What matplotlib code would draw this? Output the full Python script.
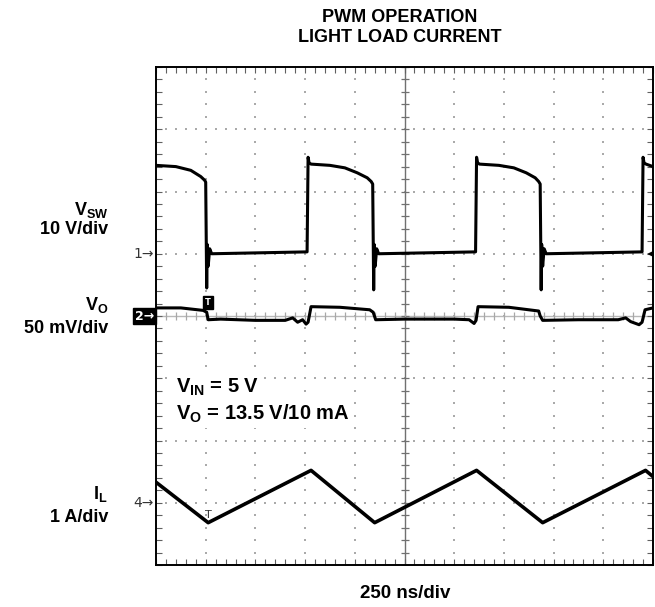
import numpy as np
import matplotlib
matplotlib.use("Agg")
import matplotlib.pyplot as plt
import matplotlib.transforms as mtransforms
from matplotlib import font_manager

# time axis in divisions (250 ns/div)
vsw_t = [0.00, 0.40, 0.70, 0.90, 0.98, 1.00, 1.02, 1.03, 1.05, 1.08, 1.12,
         3.04, 3.06, 3.08, 3.12, 3.50, 3.80, 4.05, 4.25, 4.33, 4.36, 4.38,
         4.39, 4.41, 4.44, 4.48, 6.43, 6.45, 6.47, 6.51, 6.90, 7.20, 7.45,
         7.63, 7.70, 7.73, 7.75, 7.76, 7.78, 7.81, 7.85, 9.78, 9.80, 9.82,
         9.86, 10.00]
vsw_v = [14.2, 14.0, 13.4, 12.4, 11.8, 11.5, -5.5, 1.5, -2.0, 0.8, 0.0,
         0.3, 15.5, 14.6, 14.4, 14.2, 13.8, 13.0, 12.2, 11.6, 11.2, -5.8,
         1.5, -2.0, 0.8, 0.0, 0.3, 15.5, 14.6, 14.4, 14.2, 13.8, 13.0,
         12.2, 11.6, 11.2, -5.8, 1.5, -2.0, 0.8, 0.0, 0.3, 15.5, 14.6,
         14.4, 14.0]

vo_t = [0.00, 0.50, 0.95, 1.02, 1.05, 1.30, 2.00, 2.60, 2.75, 2.85, 2.95,
        3.02, 3.06, 3.12, 3.70, 4.30, 4.37, 4.42, 5.00, 6.00, 6.30, 6.40,
        6.44, 6.48, 7.10, 7.70, 7.73, 7.78, 8.50, 9.30, 9.45, 9.55, 9.72,
        9.78, 9.84, 10.00]
vo_mv = [6.5, 6.5, 4.5, 3.0, -3.0, -2.5, -3.5, -3.5, -1.5, -5.0, -3.0,
         -6.5, -5.0, 7.5, 7.0, 5.0, 3.0, -3.0, -2.5, -2.5, -3.0, -6.0,
         -3.5, 7.5, 7.0, 4.0, 0.0, -3.5, -3.0, -3.0, -1.5, -4.5, -7.0,
         -5.0, 5.0, 6.5]

il_t = [0.00, 1.05, 3.12, 4.40, 6.45, 7.78, 9.85, 10.00]
il_a = [0.33, -0.32, 0.52, -0.32, 0.52, -0.32, 0.52, 0.42]

# scope channel settings: (ground position in div, units per div)
CH1 = (1.0, 10.0)   # V
CH2 = (0.0, 50.0)   # mV
CH4 = (-3.0, 1.0)   # A


def to_div(vals, ch):
    return ch[0] + np.asarray(vals, dtype=float) / ch[1]


names = {f.name for f in font_manager.fontManager.ttflist}
narrow = "Liberation Sans Narrow" if "Liberation Sans Narrow" in names else "Liberation Sans"

plt.rcParams["font.family"] = [narrow, "DejaVu Sans"]
plt.rcParams["font.weight"] = "bold"
plt.rcParams["mathtext.fontset"] = "custom"
plt.rcParams["mathtext.rm"] = narrow + ":bold"
plt.rcParams["mathtext.sf"] = "Liberation Sans:bold"

fig = plt.figure(figsize=(6.55, 6.07), dpi=100)
ax = fig.add_axes([156 / 655, 1 - 565 / 607, 497 / 655, 498 / 607])
ax.set_xlim(0, 10)
ax.set_ylim(-4, 4)

# dotted graticule
fine_x = np.arange(0, 10.001, 0.2)
fine_y = np.arange(-4, 4.001, 0.2)
for gx in range(1, 10):
    if gx != 5:
        ax.plot(np.full_like(fine_y, gx), fine_y, ls="none", marker="s",
                ms=1.5, mew=0, color="#aaaaaa", zorder=1)
for gy in range(-3, 4):
    if gy != 0:
        ax.plot(fine_x, np.full_like(fine_x, gy), ls="none", marker="s",
                ms=1.5, mew=0, color="#aaaaaa", zorder=1)

# center crosshair with ticks
ax.axvline(5, color="#707070", lw=1.0, zorder=1)
ax.axhline(0, color="#b8b8b8", lw=1.0, zorder=1)
ax.plot(np.full_like(fine_y, 5), fine_y, ls="none", marker="_", ms=6,
        mew=0.9, color="#707070", zorder=1)
ax.plot(fine_x, np.zeros_like(fine_x), ls="none", marker="|", ms=6,
        mew=0.9, color="#a8a8a8", zorder=1)

ax.set_xticks([])
ax.set_yticks([])
ax.set_xticks(fine_x, minor=True)
ax.set_yticks(fine_y, minor=True)
ax.tick_params(which="minor", direction="in", length=4, width=0.8,
               color="#606060", top=True, right=True,
               labelbottom=False, labelleft=False)
for sp in ax.spines.values():
    sp.set_linewidth(1.4)

# traces
ax.plot(vsw_t, to_div(vsw_v, CH1), color="black", lw=2.2, zorder=3)
ax.plot(vo_t, to_div(vo_mv, CH2), color="black", lw=2.2, zorder=3)
ax.plot(il_t, to_div(il_a, CH4), color="black", lw=2.6, zorder=3)

# channel markers
trans = mtransforms.blended_transform_factory(ax.transAxes, ax.transData)
ax.text(-0.004, CH1[0], "1\u2192", transform=trans, ha="right", va="center",
        fontsize=10, fontweight="normal", color="#333333", family="DejaVu Sans")
ax.text(-0.004, CH2[0], "2\u2192", transform=trans, ha="right", va="center",
        fontsize=9, fontweight="bold", color="white", family="DejaVu Sans",
        bbox=dict(boxstyle="square,pad=0.12", fc="black", ec="black"))
ax.text(-0.004, CH4[0], "4\u2192", transform=trans, ha="right", va="center",
        fontsize=10, fontweight="normal", color="#333333", family="DejaVu Sans")
ax.text(1.05, 0.22, "T", ha="center", va="center", fontsize=6,
        color="white", family="DejaVu Sans", zorder=4,
        bbox=dict(boxstyle="square,pad=0.25", fc="black", ec="black"))
ax.text(1.05, -3.2, "T", ha="center", va="center", fontsize=8,
        fontweight="normal", color="#333333", family="DejaVu Sans", zorder=4)
ax.text(10.0, CH1[0], "\u25c0", ha="right", va="center", fontsize=6,
        color="black", family="DejaVu Sans", zorder=4)

# test conditions
box = dict(boxstyle="square,pad=0.15", fc="white", ec="none")
ax.text(0.40, -1.14, r"V$_\mathsf{IN}$ = 5 V", ha="left", va="center",
        fontsize=14.5, family="Liberation Sans", zorder=5, bbox=box)
ax.text(0.40, -1.57, r"V$_\mathsf{O}$ = 13.5 V/10 mA", ha="left", va="center",
        fontsize=14.5, family="Liberation Sans", zorder=5, bbox=box)

# labels outside the screen
lab = dict(ha="right", va="center", fontsize=13)
fig.text(108 / 655, 1 - 210 / 607, r"V$_{\rm SW}$", **lab)
fig.text(108 / 655, 1 - 229 / 607, "10 V/div", **lab)
fig.text(108 / 655, 1 - 305 / 607, r"V$_{\rm O}$", **lab)
fig.text(108 / 655, 1 - 329 / 607, "50 mV/div", **lab)
fig.text(108 / 655, 1 - 494 / 607, r"I$_{\rm L}$", **lab)
fig.text(108 / 655, 1 - 518 / 607, "1 A/div", **lab)

fig.text(400 / 655, 1 - 18 / 607, "PWM OPERATION", ha="center", va="center",
         fontsize=13)
fig.text(400 / 655, 1 - 38 / 607, "LIGHT LOAD CURRENT", ha="center",
         va="center", fontsize=13)
fig.text(405 / 655, 1 - 594 / 607, "250 ns/div", ha="center", va="center",
         fontsize=13.5)

fig.savefig("out.png", dpi=100)
